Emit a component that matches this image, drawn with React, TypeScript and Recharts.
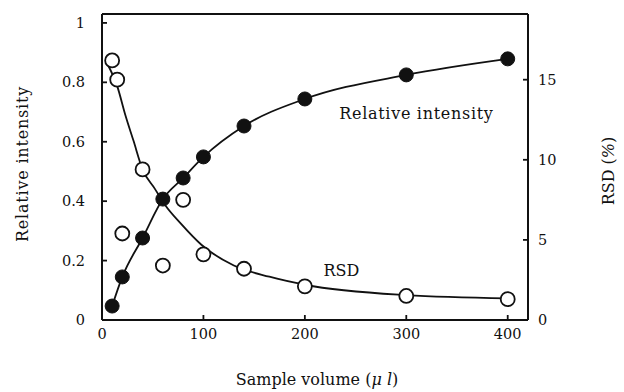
import React from 'react';
import {
  ComposedChart, Line, Scatter, XAxis, YAxis, ReferenceLine, ReferenceDot, Label,
} from 'recharts';

// Relative intensity (filled circles)
const intensityVolume = [10, 20, 40, 60, 80, 100, 140, 200, 300, 400];
const intensityValue = [0.047, 0.145, 0.276, 0.407, 0.478, 0.549, 0.653, 0.744, 0.825, 0.879];

// RSD measured points (open circles)
const rsdVolume = [10, 15, 40, 20, 60, 80, 100, 140, 200, 300, 400];
const rsdValue = [16.2, 15.0, 9.4, 5.4, 3.4, 7.5, 4.1, 3.2, 2.1, 1.5, 1.3];

// RSD fitted curve
const rsdCurveVolume = [6, 15, 23, 31, 40, 52, 62, 78, 98, 130, 165, 200, 300, 400];
const rsdCurveValue = [15.9, 14.6, 12.8, 11.2, 9.4, 8.2, 7.2, 6.0, 4.7, 3.4, 2.7, 2.2, 1.55, 1.35];

const xTicks = [0, 100, 200, 300, 400];
const leftTicks = [0, 0.2, 0.4, 0.6, 0.8, 1];
const rightTicks = [0, 5, 10, 15];

const intensityData = intensityVolume.map((v, i) => ({ volume: v, intensity: intensityValue[i] }));
const rsdData = rsdVolume.map((v, i) => ({ volume: v, rsd: rsdValue[i] }));
const rsdCurveData = rsdCurveVolume.map((v, i) => ({ volume: v, rsd: rsdCurveValue[i] }));

const FONT = "'DejaVu Serif', serif";
const INK = '#111';

const tickStyle = { fontSize: 14.5, fill: INK, fontFamily: FONT };

const OpenCircle = (props: any) => {
  const { cx, cy } = props;
  if (cx == null || cy == null) return null;
  return <circle cx={cx} cy={cy} r={7} fill="#fff" stroke={INK} strokeWidth={1.8} />;
};

export default function App() {
  return (
    <div style={{ position: 'absolute', left: 0, top: 0, width: 624, height: 392, background: '#fff', fontFamily: FONT }}>
      <ComposedChart
        width={624}
        height={392}
        margin={{ top: 14, right: 36, bottom: 42, left: 42 }}
      >
        <XAxis
          type="number"
          dataKey="volume"
          domain={[0, 420]}
          ticks={xTicks}
          tickSize={-5}
          tickMargin={14}
          height={30}
          tick={tickStyle}
          axisLine={{ stroke: INK, strokeWidth: 1.8 }}
          tickLine={{ stroke: INK, strokeWidth: 1.8 }}
        >
          <Label
            content={({ viewBox }: any) => (
              <text
                x={viewBox.x + viewBox.width / 2 + 2}
                y={385}
                textAnchor="middle"
                fontFamily={FONT}
                fontSize={16}
                fill={INK}
              >
                Sample volume (<tspan fontStyle="italic">μ l</tspan>)
              </text>
            )}
          />
        </XAxis>
        <YAxis
          yAxisId="left"
          type="number"
          domain={[0, 1.03]}
          ticks={leftTicks}
          tickFormatter={(v: number) => (v === 0 ? '0' : v === 1 ? '1' : v.toFixed(1))}
          tickSize={-5}
          tickMargin={22}
          width={60}
          tick={tickStyle}
          axisLine={{ stroke: INK, strokeWidth: 2 }}
          tickLine={{ stroke: INK, strokeWidth: 1.8 }}
        >
          <Label
            content={() => (
              <text
                x={22}
                y={164}
                transform="rotate(-90 22 164)"
                textAnchor="middle"
                dominantBaseline="central"
                fontFamily={FONT}
                fontSize={16}
                letterSpacing={0.8}
                fill={INK}
              >
                Relative intensity
              </text>
            )}
          />
        </YAxis>
        <YAxis
          yAxisId="right"
          orientation="right"
          type="number"
          domain={[0, 19.1]}
          ticks={rightTicks}
          tickSize={-5}
          tickMargin={15}
          width={60}
          tick={tickStyle}
          axisLine={{ stroke: INK, strokeWidth: 2 }}
          tickLine={{ stroke: INK, strokeWidth: 1.8 }}
        >
          <Label
            content={() => (
              <text
                x={608}
                y={171}
                transform="rotate(-90 608 171)"
                textAnchor="middle"
                dominantBaseline="central"
                fontFamily={FONT}
                fontSize={16}
                fill={INK}
              >
                RSD (<tspan fontStyle="italic">%</tspan>)
              </text>
            )}
          />
        </YAxis>

        <ReferenceLine yAxisId="left" y={1.03} stroke={INK} strokeWidth={2} />

        <Line
          yAxisId="right"
          data={rsdCurveData}
          dataKey="rsd"
          type="monotone"
          stroke={INK}
          strokeWidth={1.8}
          dot={false}
          activeDot={false}
          isAnimationActive={false}
        />
        <Line
          yAxisId="left"
          data={intensityData}
          dataKey="intensity"
          type="monotone"
          stroke={INK}
          strokeWidth={1.8}
          dot={{ r: 7, fill: INK, stroke: INK, strokeWidth: 1 }}
          activeDot={false}
          isAnimationActive={false}
        />
        <Scatter
          yAxisId="right"
          data={rsdData}
          dataKey="rsd"
          shape={<OpenCircle />}
          isAnimationActive={false}
        />

        <ReferenceDot
          yAxisId="left"
          x={310}
          y={0.695}
          r={0}
          label={{ value: 'Relative intensity', position: 'center', fontSize: 16, fill: INK, fontFamily: FONT, letterSpacing: 0.7 }}
        />
        <ReferenceDot
          yAxisId="right"
          x={236}
          y={3.1}
          r={0}
          label={{ value: 'RSD', position: 'center', fontSize: 16, fill: INK, fontFamily: FONT }}
        />
      </ComposedChart>
    </div>
  );
}
